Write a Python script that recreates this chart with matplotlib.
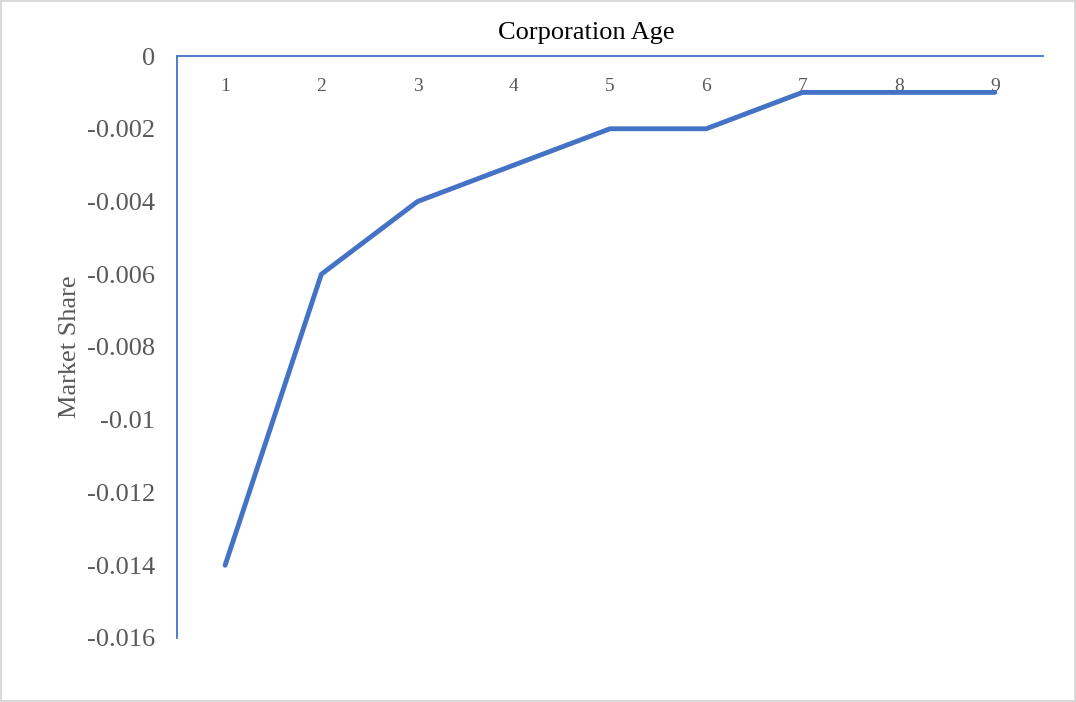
#!/usr/bin/env python3
"""
Market share by corporation age
Generates: out.png
"""
import matplotlib.pyplot as plt
from matplotlib.ticker import FuncFormatter

plt.rcParams['font.family'] = ['Liberation Serif', 'DejaVu Serif']

# Data
ages = [1, 2, 3, 4, 5, 6, 7, 8, 9]
market_share = [-0.014, -0.006, -0.004, -0.003, -0.002, -0.002, -0.001, -0.001, -0.001]
y_ticks = [0, -0.002, -0.004, -0.006, -0.008, -0.010, -0.012, -0.014, -0.016]

LINE_BLUE = '#4472C4'
TEXT_GRAY = '#595959'

fig = plt.figure(figsize=(10.76, 7.02), dpi=100)
fig.patch.set_facecolor('white')
fig.patch.set_edgecolor('#D9D9D9')
fig.patch.set_linewidth(1.5)
ax = fig.add_axes([0.1645, 0.0912, 0.8048, 0.829])

ax.plot(ages, market_share, color=LINE_BLUE, linewidth=3.5,
        solid_capstyle='round', solid_joinstyle='round')

# Axis ranges
ax.set_xlim(0.5, 9.5)
ax.set_ylim(-0.016, 0)
ax.set_xticks(ages)
ax.set_yticks(y_ticks)
ax.yaxis.set_major_formatter(FuncFormatter(lambda v, p: '0' if v == 0 else f'{v:g}'))

# Category labels sit just under the top axis line
ax.xaxis.set_ticks_position('top')
ax.tick_params(axis='x', length=0, pad=-28, labelsize=14, labelcolor=TEXT_GRAY)
ax.tick_params(axis='y', length=0, pad=16, labelsize=19, labelcolor=TEXT_GRAY)

# Spines
for side in ['right', 'bottom']:
    ax.spines[side].set_visible(False)
for side in ['top', 'left']:
    ax.spines[side].set_color(LINE_BLUE)
    ax.spines[side].set_linewidth(1.3)

ax.set_title('Corporation Age', fontsize=19, color='black', x=0.473, y=1.0, pad=12)
ax.set_ylabel('Market Share', fontsize=19, color=TEXT_GRAY, labelpad=4)

fig.savefig('out.png', dpi=100, facecolor='white')
